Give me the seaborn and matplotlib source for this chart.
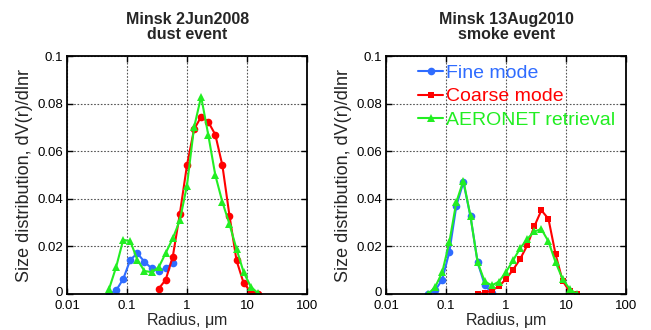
import numpy as np
import pandas as pd
import matplotlib
matplotlib.use("Agg")
import matplotlib.pyplot as plt
import matplotlib.transforms as mtransforms
import seaborn as sns

# AERONET radius bins (um)
radius = [0.05, 0.0656, 0.0861, 0.113, 0.148, 0.194, 0.255, 0.335, 0.439, 0.576,
          0.756, 0.992, 1.302, 1.708, 2.241, 2.94, 3.857, 5.061, 6.641, 8.713,
          11.43, 15.0]

# Minsk 2 Jun 2008, dust event
dust_fine = [0.0, 0.0015, 0.0063, 0.0144, 0.0171, 0.0136, 0.0108, 0.0098, 0.0108, 0.0130]
dust_coarse = [0.0022, 0.0060, 0.0157, 0.0338, 0.0541, 0.0692, 0.0745, 0.0724, 0.0670,
               0.0541, 0.0330, 0.0141, 0.0046, 0.0010, 0.0]
dust_aeronet = [0.0021, 0.0113, 0.0228, 0.0222, 0.0144, 0.0097, 0.0092, 0.0112, 0.0172,
                0.0234, 0.0310, 0.0456, 0.0700, 0.0830, 0.0670, 0.0500, 0.0387, 0.0294,
                0.0189, 0.0092, 0.0031, 0.0004]

# Minsk 13 Aug 2010, smoke event
smoke_fine = [0.0, 0.0015, 0.0060, 0.0176, 0.0370, 0.0470, 0.0326, 0.0133, 0.0039, 0.0004]
smoke_coarse = [0.0001, 0.0004, 0.0015, 0.0032, 0.0063, 0.0102, 0.0147, 0.0204, 0.0284,
                0.0352, 0.0316, 0.0168, 0.0055, 0.0011, 0.0]
smoke_aeronet = [0.0, 0.0029, 0.0091, 0.0217, 0.0386, 0.0477, 0.0326, 0.0133, 0.0053,
                 0.0036, 0.0052, 0.0092, 0.0141, 0.0192, 0.0231, 0.0263, 0.0273, 0.0221,
                 0.0134, 0.0063, 0.0021, 0.0]

titles = ["Minsk 2Jun2008\ndust event", "Minsk 13Aug2010\nsmoke event"]
series_names = ["Fine mode", "Coarse mode", "AERONET retrieval"]
xticks = [0.01, 0.1, 1, 10, 100]
xticklabels = ["0.01", "0.1", "1", "10", "100"]
yticks = [0, 0.02, 0.04, 0.06, 0.08, 0.1]
yticklabels = ["0", "0.02", "0.04", "0.06", "0.08", "0.1"]

sns.set_style("ticks")
plt.rcParams["font.family"] = ["Liberation Sans", "DejaVu Sans"]
plt.rcParams["mathtext.fontset"] = "custom"
plt.rcParams["mathtext.rm"] = "Liberation Sans"
plt.rcParams["mathtext.it"] = "Liberation Sans"


def build_frame(fine, coarse, aeronet):
    parts = []
    parts.append(pd.DataFrame({"r": radius[:len(fine)], "v": fine, "s": series_names[0]}))
    parts.append(pd.DataFrame({"r": radius[len(radius) - len(coarse):], "v": coarse,
                               "s": series_names[1]}))
    parts.append(pd.DataFrame({"r": radius[:len(aeronet)], "v": aeronet, "s": series_names[2]}))
    return pd.concat(parts, ignore_index=True)


frames = [build_frame(dust_fine, dust_coarse, dust_aeronet),
          build_frame(smoke_fine, smoke_coarse, smoke_aeronet)]

colors = {"Fine mode": "#2f6cff", "Coarse mode": "#ff0000", "AERONET retrieval": "#22ee22"}
dust_markers = {"Fine mode": "o", "Coarse mode": "o", "AERONET retrieval": "^"}
smoke_markers = {"Fine mode": "o", "Coarse mode": "s", "AERONET retrieval": "^"}
marker_sizes = {"o": 5.5, "s": 5.0, "^": 5.8}
marker_sets = [dust_markers, smoke_markers]

fig = plt.figure(figsize=(6.51, 3.30), dpi=100)
axes = [fig.add_axes([0.103, 0.109, 0.369, 0.721]),
        fig.add_axes([0.593, 0.109, 0.369, 0.721])]

for ax, df, title, mk in zip(axes, frames, titles, marker_sets):
    for name in series_names:
        sub = df[df["s"] == name]
        sns.lineplot(data=sub, x="r", y="v", ax=ax, color=colors[name], marker=mk[name],
                     markersize=marker_sizes[mk[name]], markeredgewidth=0, linewidth=1.5,
                     label=name, legend=False, sort=False)
    ax.set_xscale("log")
    ax.set_xlim(0.01, 100)
    ax.set_ylim(0, 0.1)
    ax.set_xticks(xticks)
    ax.set_xticklabels(xticklabels)
    ax.set_yticks(yticks)
    ax.set_yticklabels(yticklabels)
    ax.xaxis.set_minor_locator(matplotlib.ticker.NullLocator())
    ax.tick_params(direction="in", length=4, width=1, top=True, right=True,
                   labelsize=9.5, colors="black")
    ax.tick_params(axis="x", pad=4)
    ax.tick_params(axis="y", pad=3)
    # lift the "0" label slightly so it clears the first radius label
    zero_label = ax.get_yticklabels()[0]
    zero_label.set_transform(zero_label.get_transform() +
                             mtransforms.ScaledTranslation(0, 2 / 72, fig.dpi_scale_trans))
    ax.grid(True, linestyle=(0, (1.5, 1.5)), color="#555555", linewidth=0.8)
    for sp in ax.spines.values():
        sp.set_linewidth(1.3)
        sp.set_color("black")
    ax.set_xlabel("Radius, $\\mathrm{\\mu}$m", fontsize=11.5, labelpad=-0.5)
    ax.set_ylabel("Size distribution, dV(r)/dlnr", fontsize=13, labelpad=3)
    ax.set_title(title, fontsize=11.5, fontweight="bold", pad=12, linespacing=1.05)

leg = axes[1].legend(loc="upper left", frameon=False, fontsize=14, handlelength=1.25,
                     handletextpad=0.15, labelspacing=0.3, borderpad=0, borderaxespad=0,
                     bbox_to_anchor=(0.135, 0.965))
for text, name in zip(leg.get_texts(), series_names):
    text.set_color(colors[name])

fig.savefig("out.png", dpi=100)
